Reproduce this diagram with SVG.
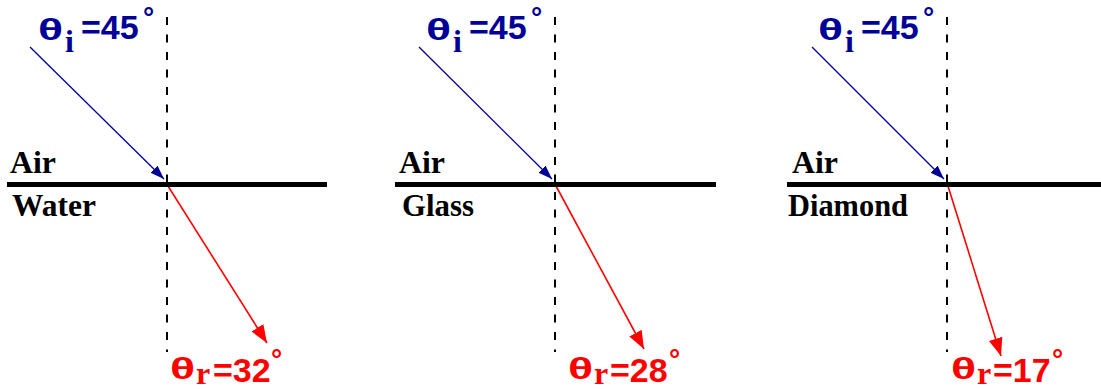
<svg xmlns="http://www.w3.org/2000/svg" width="1101" height="389" viewBox="0 0 1101 389">
<style>
.surf{stroke:#000;stroke-width:5;fill:none}
.norm{stroke:#000;stroke-width:2;stroke-dasharray:8 9.5;fill:none}
.inc{stroke:#000099;stroke-width:1.3;fill:none}
.ref{stroke:#ff0000;stroke-width:1.6;fill:none}
.med{font-family:"Liberation Serif",serif;font-weight:bold;font-size:32px;fill:#000}
.blue{fill:#000099}
.red{fill:#ff0000}
.th{font-family:"Liberation Sans",sans-serif;font-weight:bold;font-size:30px}
.sub{font-family:"Liberation Serif",serif;font-weight:bold;font-size:32px}
.num{font-family:"Liberation Sans",sans-serif;font-weight:bold;font-size:34px}
.deg{font-family:"Liberation Sans",sans-serif;font-weight:bold;font-size:28px}
</style>
<defs>
<marker id="ab" markerUnits="userSpaceOnUse" markerWidth="16" markerHeight="12" refX="14" refY="5" orient="auto">
<path d="M0,0 L14,5 L0,10 z" fill="#000099"/>
</marker>
<marker id="ar" markerUnits="userSpaceOnUse" markerWidth="20" markerHeight="16" refX="18" refY="7" orient="auto">
<path d="M0,0 L18,7 L0,14 z" fill="#ff0000"/>
</marker>
</defs>

<g id="connectors">
<line class="norm" x1="167" y1="17" x2="167" y2="352"/>
<line class="norm" x1="555" y1="17" x2="555" y2="352"/>
<line class="norm" x1="947" y1="17" x2="947" y2="352"/>
<line class="inc" x1="30" y1="47" x2="164" y2="179" marker-end="url(#ab)"/>
<line class="inc" x1="419" y1="47" x2="552" y2="179" marker-end="url(#ab)"/>
<line class="inc" x1="812" y1="47" x2="944" y2="179" marker-end="url(#ab)"/>
<line class="ref" x1="168" y1="186" x2="267" y2="343" marker-end="url(#ar)"/>
<line class="ref" x1="556" y1="186" x2="644" y2="349" marker-end="url(#ar)"/>
<line class="ref" x1="948" y1="186" x2="1001" y2="356" marker-end="url(#ar)"/>
</g>

<g id="panel-water">
<line class="surf" x1="7" y1="184.5" x2="327" y2="184.5"/>
<text class="med" x="10" y="173" textLength="46" lengthAdjust="spacingAndGlyphs">Air</text>
<text class="med" x="12" y="216" textLength="84" lengthAdjust="spacingAndGlyphs">Water</text>
<text class="th blue" transform="translate(38,40) scale(1.55,1)">θ</text>
<text class="blue"><tspan class="sub" x="65" y="52">i</tspan><tspan class="num" x="81" y="39">=45</tspan><tspan class="deg" x="143" y="27">°</tspan></text>
<text class="th red" transform="translate(170,379) scale(1.55,1)">θ</text>
<text class="red"><tspan class="sub" x="196" y="384">r</tspan><tspan class="num" x="213" y="382">=32</tspan><tspan class="deg" x="271" y="369">°</tspan></text>
</g>

<g id="panel-glass">
<line class="surf" x1="395" y1="184.5" x2="716" y2="184.5"/>
<text class="med" x="399" y="173" textLength="46" lengthAdjust="spacingAndGlyphs">Air</text>
<text class="med" x="402" y="216" textLength="72" lengthAdjust="spacingAndGlyphs">Glass</text>
<text class="th blue" transform="translate(426,40) scale(1.55,1)">θ</text>
<text class="blue"><tspan class="sub" x="453" y="52">i</tspan><tspan class="num" x="469" y="39">=45</tspan><tspan class="deg" x="531" y="27">°</tspan></text>
<text class="th red" transform="translate(568,379) scale(1.55,1)">θ</text>
<text class="red"><tspan class="sub" x="594" y="384">r</tspan><tspan class="num" x="610" y="382">=28</tspan><tspan class="deg" x="669" y="369">°</tspan></text>
</g>

<g id="panel-diamond">
<line class="surf" x1="787" y1="184.5" x2="1101" y2="184.5"/>
<text class="med" x="792" y="173" textLength="46" lengthAdjust="spacingAndGlyphs">Air</text>
<text class="med" x="788" y="216" textLength="120" lengthAdjust="spacingAndGlyphs">Diamond</text>
<text class="th blue" transform="translate(818,40) scale(1.55,1)">θ</text>
<text class="blue"><tspan class="sub" x="845" y="52">i</tspan><tspan class="num" x="861" y="39">=45</tspan><tspan class="deg" x="923" y="27">°</tspan></text>
<text class="th red" transform="translate(951,379) scale(1.55,1)">θ</text>
<text class="red"><tspan class="sub" x="977" y="384">r</tspan><tspan class="num" x="993" y="382">=17</tspan><tspan class="deg" x="1052" y="369">°</tspan></text>
</g>
</svg>
